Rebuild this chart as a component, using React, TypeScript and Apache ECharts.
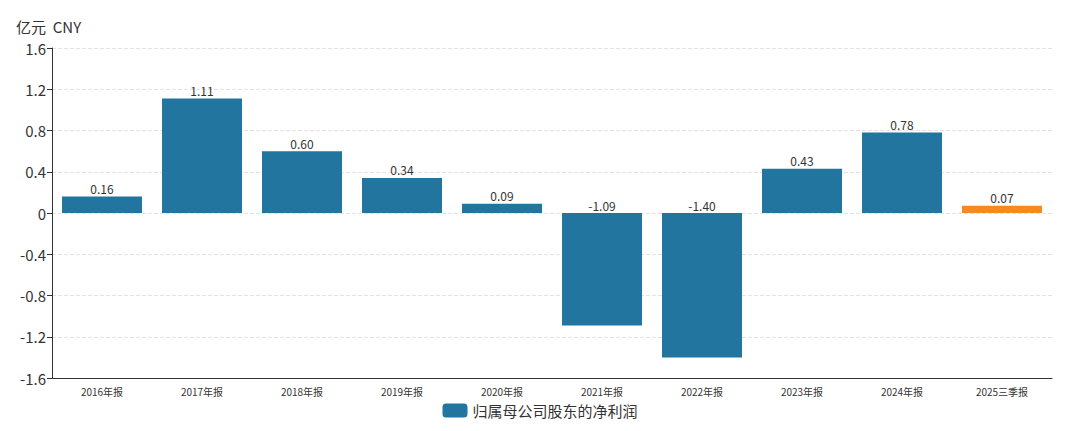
import React, { useEffect, useRef } from "react";
import * as echarts from "echarts";

const categories = ["2016年报", "2017年报", "2018年报", "2019年报", "2020年报", "2021年报", "2022年报", "2023年报", "2024年报", "2025三季报"];
const values = [0.16, 1.11, 0.6, 0.34, 0.09, -1.09, -1.4, 0.43, 0.78, 0.07];
const seriesName = "归属母公司股东的净利润";
const highlightIndex = 9;

export default function App() {
  const ref = useRef<HTMLDivElement>(null);
  useEffect(() => {
    const chart = echarts.init(ref.current!, undefined, { renderer: "svg" });
    const font = "'Microsoft YaHei', 'Noto Sans CJK SC', sans-serif";
    const labelStyle = { show: true, position: "top", distance: 2, fontSize: 12, color: "#333", opacity: 1 };
    chart.setOption({
      animation: false,
      textStyle: { fontFamily: font },
      grid: { left: 44, right: 20, top: 40, bottom: 45 },
      legend: {
        bottom: 0,
        left: "center",
        itemWidth: 25,
        itemHeight: 14,
        icon: "roundRect",
        textStyle: { fontSize: 15, color: "#333", fontFamily: font },
        data: [{ name: seriesName, itemStyle: { color: "#21759f" } }],
      },
      xAxis: {
        type: "category",
        data: categories,
        axisLine: { onZero: false, lineStyle: { color: "#333" } },
        axisTick: { alignWithLabel: true, lineStyle: { color: "#333" } },
        axisLabel: { fontSize: 10, color: "#333", margin: 8 },
      },
      yAxis: {
        type: "value",
        min: -1.6,
        max: 1.6,
        interval: 0.4,
        name: "亿元  CNY",
        nameGap: 14,
        nameTextStyle: { fontSize: 15, color: "#333", align: "left", padding: [0, 0, 0, -36] },
        axisLine: { show: true, lineStyle: { color: "#333" } },
        axisTick: { show: true, lineStyle: { color: "#333" } },
        axisLabel: {
          fontSize: 15,
          color: "#333",
          margin: 6,
          formatter: (v: number) => (Math.abs(v) < 1e-9 ? "0" : String(parseFloat(v.toFixed(1)))),
        },
        splitLine: { lineStyle: { type: "dashed", color: "#e3e3e3" } },
      },
      series: [
        {
          name: seriesName,
          type: "bar",
          barWidth: "80%",
          data: values.map((v, i) => ({
            value: v,
            itemStyle: { color: i === highlightIndex ? "#f7891f" : "#21759f" },
            label: { show: v >= 0 },
          })),
          itemStyle: { color: "#21759f" },
          label: { ...labelStyle, formatter: (p: any) => p.value.toFixed(2) },
        },
        {
          name: "negLabels",
          type: "scatter",
          symbolSize: 0,
          z: 5,
          itemStyle: { opacity: 1, color: "#333" },
          data: values.map((v) => (v < 0 ? 0 : "-")),
          label: { ...labelStyle, formatter: (p: any) => values[p.dataIndex].toFixed(2) },
        },
      ],
    });
    return () => chart.dispose();
  }, []);
  return <div ref={ref} style={{ width: 1064, height: 415 }} />;
}
